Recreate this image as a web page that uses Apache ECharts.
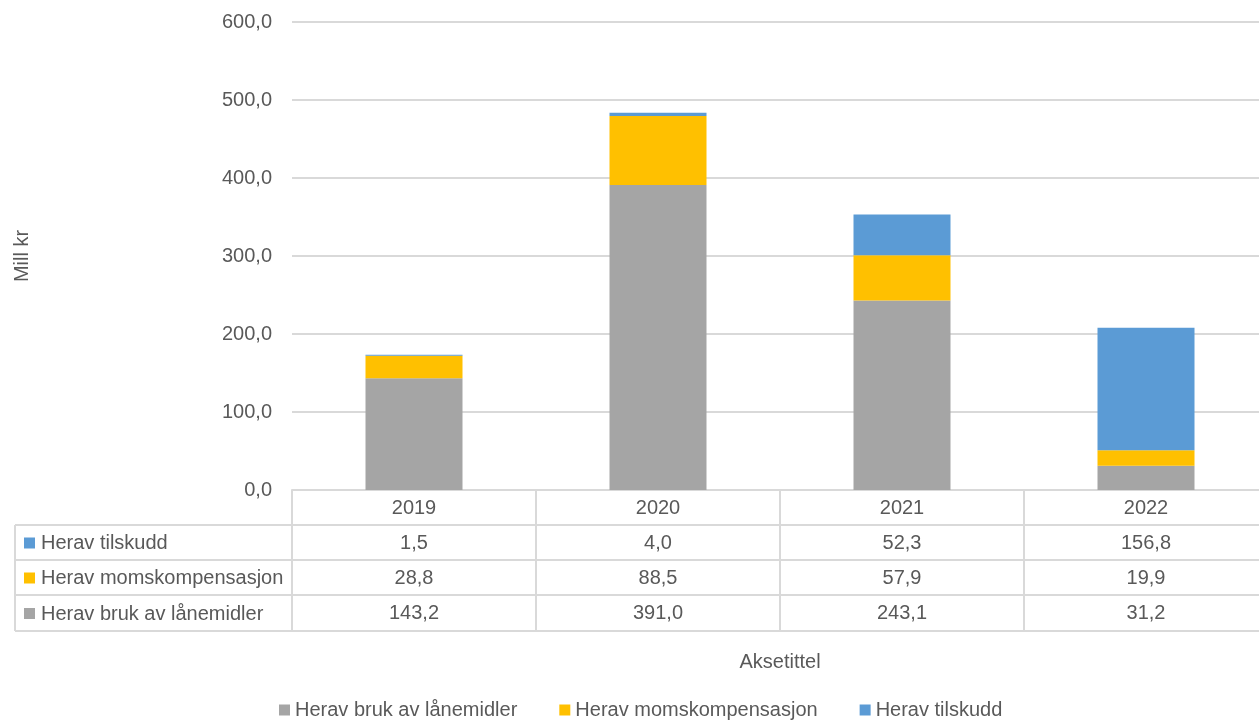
<!DOCTYPE html>
<html>
<head>
<meta charset="utf-8">
<script src="https://cdn.jsdelivr.net/npm/echarts@6/dist/echarts.min.js"></script>
<style>
  html, body { margin: 0; padding: 0; background: #fff; }
  #chart { width: 1259px; height: 726px; }
</style>
</head>
<body>
<div id="chart"></div>
<script>
// data
const years = ['2019', '2020', '2021', '2022']
const bruk = [143.2, 391.0, 243.1, 31.2]
const moms = [28.8, 88.5, 57.9, 19.9]
const tilskudd = [1.5, 4.0, 52.3, 156.8]
const seriesNames = ['Herav bruk av lånemidler', 'Herav momskompensasjon', 'Herav tilskudd']
const colors = ['#A5A5A5', '#FFC000', '#5B9BD5']

const font = 'Liberation Sans'
const fontSize = 20
const textColor = '#595959'
const lineColor = '#D9D9D9'
const fmt = (v) => v.toFixed(1).replace('.', ',')

// table layout (rows below the axis)
const tableLeft = 15
const tableRight = 1259
const rowTops = [525, 560, 595, 631]
// table rows top-to-bottom: tilskudd, moms, bruk
const tableRows = [
  { name: seriesNames[2], color: colors[2], values: tilskudd },
  { name: seriesNames[1], color: colors[1], values: moms },
  { name: seriesNames[0], color: colors[0], values: bruk }
]

const mChart = echarts.init(document.getElementById('chart'))

const graphics = []
// horizontal table lines
rowTops.forEach((y) => {
  graphics.push({
    type: 'line',
    shape: { x1: tableLeft, y1: y, x2: tableRight, y2: y },
    style: { stroke: lineColor, lineWidth: 2 }
  })
})
// left border
graphics.push({
  type: 'line',
  shape: { x1: tableLeft, y1: rowTops[0], x2: tableLeft, y2: rowTops[3] },
  style: { stroke: lineColor, lineWidth: 2 }
})
// row headers
tableRows.forEach((row, i) => {
  const cy = (rowTops[i] + rowTops[i + 1]) / 2
  graphics.push({
    type: 'rect',
    shape: { x: 24, y: cy - 5, width: 11, height: 11 },
    style: { fill: row.color }
  })
  graphics.push({
    type: 'text',
    x: 41,
    y: cy + 1,
    style: {
      text: row.name,
      fill: textColor,
      font: fontSize + 'px "' + font + '"',
      verticalAlign: 'middle'
    }
  })
})

const options = {
  animation: false,
  color: colors,
  textStyle: { fontFamily: font },
  grid: {
    left: 292,
    width: 976,
    top: 22,
    bottom: 236,
    outerBoundsMode: 'none'
  },
  legend: {
    data: seriesNames,
    bottom: 1,
    left: 274,
    itemWidth: 11,
    itemHeight: 11,
    itemGap: 42,
    icon: 'rect',
    textStyle: { fontSize: fontSize, color: textColor, fontFamily: font }
  },
  xAxis: {
    type: 'category',
    data: years,
    name: 'Aksetittel',
    nameLocation: 'middle',
    nameGap: 162,
    nameTextStyle: { fontSize: fontSize, color: textColor },
    axisLine: { lineStyle: { color: lineColor, width: 2 } },
    axisTick: {
      show: true,
      interval: 0,
      length: 141,
      lineStyle: { color: lineColor, width: 2 }
    },
    axisLabel: {
      interval: 0,
      margin: 1,
      color: textColor,
      formatter: (val, idx) => {
        const lines = ['{v|' + val + '}']
        tableRows.forEach((row) => lines.push('{v|' + fmt(row.values[idx]) + '}'))
        return lines.join('\n')
      },
      rich: {
        v: { fontSize: fontSize, lineHeight: 35, color: textColor, fontFamily: font }
      }
    }
  },
  yAxis: {
    type: 'value',
    min: 0,
    max: 600,
    interval: 100,
    name: 'Mill kr',
    nameLocation: 'middle',
    nameGap: 260,
    nameTextStyle: { fontSize: fontSize, color: textColor },
    axisLine: { show: false },
    axisTick: { show: false },
    axisLabel: {
      margin: 20,
      fontSize: fontSize,
      color: textColor,
      formatter: (v) => fmt(v)
    },
    splitLine: { lineStyle: { color: lineColor, width: 2 } }
  },
  series: [
    { name: seriesNames[0], type: 'bar', stack: 'total', data: bruk, barWidth: 97 },
    { name: seriesNames[1], type: 'bar', stack: 'total', data: moms, barWidth: 97 },
    { name: seriesNames[2], type: 'bar', stack: 'total', data: tilskudd, barWidth: 97 }
  ],
  graphic: graphics
}

mChart.setOption(options)
</script>
</body>
</html>
